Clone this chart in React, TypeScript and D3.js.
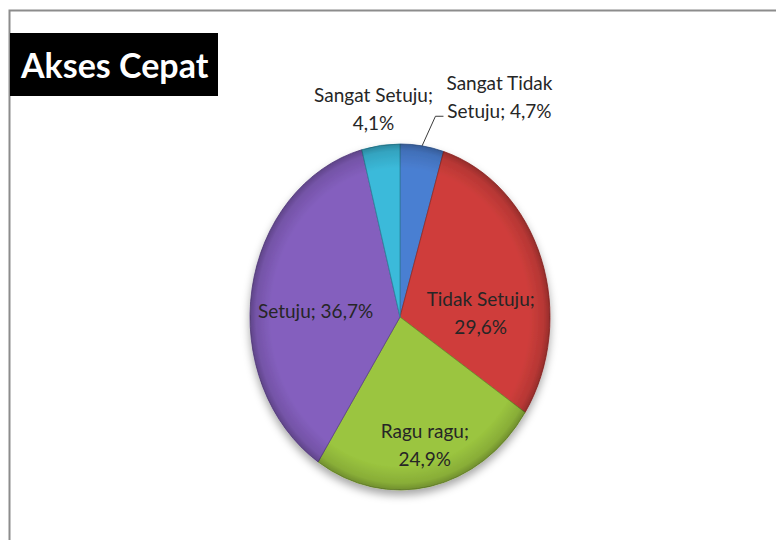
import React from "react";
import * as d3 from "d3";

// chart data (clockwise from 12 o'clock)
const categories = ["Sangat Tidak Setuju", "Tidak Setuju", "Ragu ragu", "Setuju", "Sangat Setuju"];
const percents = [4.7, 29.6, 24.9, 36.7, 4.1];
const labelLines = [
  ["Sangat Tidak", "Setuju; 4,7%"],
  ["Tidak Setuju;", "29,6%"],
  ["Ragu ragu;", "24,9%"],
  ["Setuju; 36,7%"],
  ["Sangat Setuju;", "4,1%"],
];
const colors = ["#4a7fd2", "#cf3e3b", "#9bc53f", "#845fbe", "#3bbada"];
const title = "Akses Cepat";

// layout
const width = 776;
const height = 540;
const cx = 400;
const cy = 317;
const rx = 150;
const ry = 173;
// radius factor and nudge for each label (Excel "best fit" placement)
const labelLayout = [
  { k: 1.29, dx: 71, dy: 0 },
  { k: 0.6, dx: -4, dy: 30 },
  { k: 0.75, dx: 2, dy: 0 },
  { k: 0.57, dx: 0, dy: 9 },
  { k: 1.22, dx: -3, dy: 0 },
];

export default function App() {
  const pie = d3.pie<number>().sort(null).value((d) => d);
  const arcs = pie(percents);
  const arc = d3.arc<d3.PieArcDatum<number>>().innerRadius(0).outerRadius(rx);

  // position on the ellipse for an angle and radius factor
  const pt = (a: number, k: number) => [cx + rx * k * Math.sin(a), cy - ry * k * Math.cos(a)];

  const lineH = 28;

  return (
    <svg
      width={width}
      height={height}
      style={{ position: "absolute", left: 0, top: 0, background: "#fff" }}
      fontFamily="Lato, 'Open Sans', sans-serif"
    >
      <defs>
        <filter id="shadow" x="-20%" y="-20%" width="140%" height="140%">
          <feDropShadow dx="0" dy="5" stdDeviation="4" floodColor="#000" floodOpacity="0.35" />
        </filter>
        <radialGradient id="rim" cx="50%" cy="50%" r="50%">
          <stop offset="0%" stopColor="#fff" stopOpacity="0" />
          <stop offset="86%" stopColor="#000" stopOpacity="0" />
          <stop offset="96%" stopColor="#000" stopOpacity="0.12" />
          <stop offset="100%" stopColor="#000" stopOpacity="0.28" />
        </radialGradient>
      </defs>

      {/* frame */}
      <path d={`M9.5,${height} V10.5 H${width}`} fill="none" stroke="#8c8c8c" strokeWidth={2} />

      {/* title */}
      <rect x={10} y={33} width={208} height={63} fill="#000" />
      <text x={21} y={78} fill="#fff" fontSize={34} fontWeight="bold" fontFamily="Lato, sans-serif">
        {title}
      </text>

      {/* pie */}
      <g filter="url(#shadow)">
        <g transform={`translate(${cx},${cy}) scale(1,${ry / rx})`}>
          {arcs.map((a, i) => (
            <path
              key={categories[i]}
              d={arc(a) || ""}
              fill={colors[i]}
              stroke={d3.color(colors[i])!.darker(0.9).formatHex()}
              strokeWidth={0.8}
            />
          ))}
          <ellipse cx={0} cy={0} rx={rx} ry={rx} fill="url(#rim)" />
        </g>
      </g>

      {/* leader line for the small slice on the right */}
      {(() => {
        const a = arcs[0];
        const mid = (a.startAngle + a.endAngle) / 2;
        const [x0, y0] = pt(mid, 1);
        const [lx, ly] = pt(mid, labelLayout[0].k);
        const tx = lx + labelLayout[0].dx - 56;
        const ty = ly + labelLayout[0].dy + 20;
        return (
          <polyline
            points={`${x0},${y0} ${tx - 8},${ty} ${tx},${ty}`}
            fill="none"
            stroke="#3a3a3a"
            strokeWidth={1}
          />
        );
      })()}

      {/* labels */}
      {arcs.map((a, i) => {
        const mid = (a.startAngle + a.endAngle) / 2;
        const L = labelLayout[i];
        const [x, y] = pt(mid, L.k);
        const lines = labelLines[i];
        const y0 = y + L.dy - ((lines.length - 1) * lineH) / 2;
        return (
          <text
            key={categories[i]}
            x={x + L.dx}
            y={y0}
            textAnchor="middle"
            dominantBaseline="central"
            fontSize={19}
            fill="#262626"
          >
            {lines.map((s, j) => (
              <tspan key={j} x={x + L.dx} y={y0 + j * lineH}>
                {s}
              </tspan>
            ))}
          </text>
        );
      })}
    </svg>
  );
}
